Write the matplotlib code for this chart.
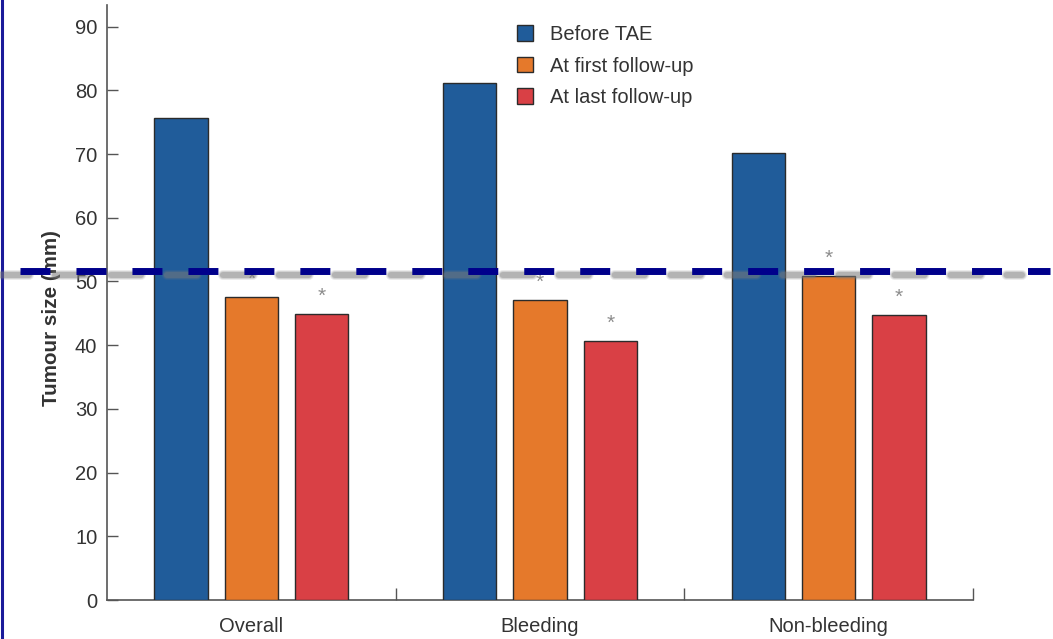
import matplotlib
matplotlib.use("Agg")
import matplotlib.pyplot as plt
import matplotlib.transforms as mtransforms
from matplotlib.lines import Line2D
from matplotlib.patches import Patch
import numpy as np

plt.rcParams['font.family'] = ['Liberation Sans', 'DejaVu Sans']
plt.rcParams['lines.scale_dashes'] = False

groups = ['Overall', 'Bleeding', 'Non-bleeding']
series = ['Before TAE', 'At first follow-up', 'At last follow-up']
before_tae = [75.6, 81.2, 70.1]
first_fu = [47.6, 47.1, 50.8]
last_fu = [44.9, 40.6, 44.7]
starred = [False, True, True]   # significance marks per series
cutoff = 51.6

colors = ['#205c9a', '#e5792b', '#d94045']
values = [before_tae, first_fu, last_fu]

fig = plt.figure(figsize=(10.53, 6.39), dpi=100)
ax = fig.add_axes([107 / 1053, 1 - 600 / 639, 866 / 1053, 595 / 639])

x = np.arange(len(groups))
width = 0.184
step = 0.2435
for i, (vals, col) in enumerate(zip(values, colors)):
    pos = x + (i - 1) * step
    ax.bar(pos, vals, width, color=col, edgecolor='#2b2b2b', linewidth=1.0, zorder=3)
    if starred[i]:
        for px, v in zip(pos, vals):
            ax.annotate('*', (px, v), xytext=(0, 6), textcoords='offset points',
                        ha='center', va='bottom', fontsize=15, color='#8c8c8c', zorder=4)

ax.set_xlim(-0.5, 2.5)
ax.set_ylim(0, 93.4)
ax.set_yticks(np.arange(0, 100, 10))
ax.set_xticks(x)
ax.set_xticklabels(groups)
ax.set_xticks([0.5, 1.5, 2.5], minor=True)
ax.tick_params(axis='x', which='major', length=0, pad=12, labelsize=14.5, labelcolor='#333333')
ax.tick_params(axis='x', which='minor', direction='in', length=9, width=1, color='#555555')
ax.tick_params(axis='y', direction='in', length=8, width=1, pad=7, labelsize=14.5,
               labelcolor='#333333', color='#555555')
for s in ['top', 'right']:
    ax.spines[s].set_visible(False)
for s in ['left', 'bottom']:
    ax.spines[s].set_color('#555555')
    ax.spines[s].set_linewidth(1.2)

ax.set_ylabel('Tumour size (mm)', fontweight='bold', fontsize=14.9, color='#333333')
ax.yaxis.set_label_coords(-46 / 866, 0.474)

handles = [Patch(facecolor=c, edgecolor='#2b2b2b', linewidth=1.0) for c in colors]
fig.legend(handles, series, loc='upper left', bbox_to_anchor=(499 / 1053, 1 - 7 / 639),
           frameon=False, fontsize=14.5, handlelength=0.8, handleheight=0.8,
           handletextpad=0.85, labelspacing=0.62, labelcolor='#333333')

# dashed reference line across the whole figure, with a soft grey shadow
dash = (0, (21.6, 18.7))
trans = mtransforms.blended_transform_factory(fig.transFigure, ax.transData)
shift = mtransforms.ScaledTranslation(-14 / 100, -4 / 100, fig.dpi_scale_trans)
for lw, a in [(10, 0.15), (8, 0.22), (6, 0.35)]:
    sh = Line2D([6 / 1053, 1036 / 1053], [cutoff, cutoff], transform=trans + shift,
                color='#7a7a7a', linewidth=lw * 0.72, alpha=a, linestyle=dash,
                dash_capstyle='round', zorder=5)
    fig.add_artist(sh)
ln = Line2D([20 / 1053, 1050 / 1053], [cutoff, cutoff], transform=trans,
            color='#00008b', linewidth=5.0, linestyle=dash, dash_capstyle='butt', zorder=6)
fig.add_artist(ln)

# navy frame edge on the left
fig.add_artist(Line2D([1.5 / 1053, 1.5 / 1053], [0, 1], transform=fig.transFigure,
                      color='#1a1a9a', linewidth=2.2))

fig.savefig('out.png', dpi=100)
